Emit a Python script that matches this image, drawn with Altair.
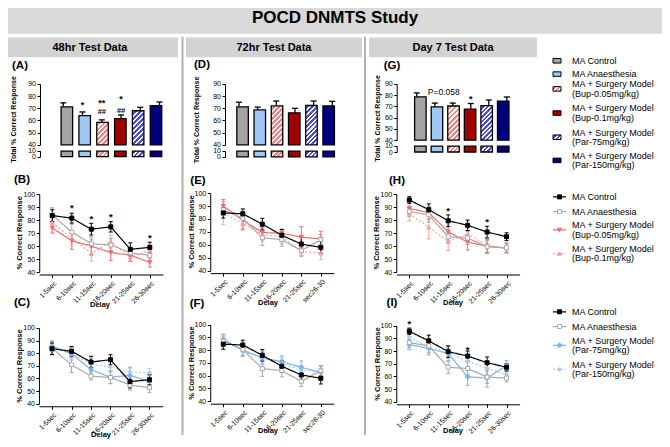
import altair as alt
import pandas as pd

W, H = 654, 431
# reference-pixel -> canvas mapping (page has an 8px margin)
YB = 429.0 / 435.0
YA = 10.0 - 10.0 * YB
FONT = "Liberation Sans"


def X(v):
    return round(min(max(v - 8.0, 0.0), W), 2)


def Y(v):
    return round(min(max(YA + YB * v - 8.0, 0.0), H), 2)


# ---------------- categories / labels ----------------
groups = ["MA Control", "MA Anaesthesia", "Bup-0.05", "Bup-0.1", "Par-75", "Par-150"]
legend_lines = [
    ["MA Control"], ["MA Anaesthesia"],
    ["MA + Surgery Model", "(Bup-0.05mg/kg)"], ["MA + Surgery Model", "(Bup-0.1mg/kg)"],
    ["MA + Surgery Model", "(Par-75mg/kg)"], ["MA + Surgery Model", "(Par-150mg/kg)"],
]
delays_a = ["1-5sec", "6-10sec", "11-15sec", "16-20sec", "21-25sec", "26-30sec"]
delays_b = ["1-5sec", "6-10sec", "11-15sec", "16-20sec", "21-25sec", "sec26-30"]

# ---------------- bar data (total % correct) ----------------
bar_48_mean = [71.2, 64.0, 58.5, 61.5, 68.0, 72.2]
bar_48_err = [3.3, 3.0, 2.0, 3.0, 2.8, 3.0]
bar_72_mean = [71.2, 68.7, 72.0, 66.3, 72.3, 72.0]
bar_72_err = [3.8, 2.3, 4.0, 3.7, 3.7, 3.7]
bar_d7_mean = [78.6, 69.6, 70.4, 67.6, 70.8, 74.8]
bar_d7_err = [3.4, 3.4, 2.6, 5.0, 5.0, 3.6]
ann_48_stars = [(1, 74.8, "*"), (2, 76.8, "**"), (3, 79.5, "*")]
ann_48_hash = [(2, 67.6, "##"), (3, 68.2, "##")]
ann_d7_stars = [(3, 78.9, "*")]
ann_d7_text = [(1.5, 82.7, "P=0.058")]

# ---------------- line data (% correct by delay) ----------------
b_ctrl = [83.5, 81.5, 73.0, 74.8, 57.5, 59.0]
b_ctrl_err = [4.5, 3.8, 4.5, 4.0, 5.0, 4.0]
b_anae = [84.0, 70.8, 61.8, 60.8, 54.8, 52.8]
b_anae_err = [5.5, 6.0, 3.0, 5.0, 4.0, 4.0]
b_bup05 = [74.0, 64.0, 60.0, 55.0, 53.0, 47.4]
b_bup05_err = [4.0, 6.5, 7.0, 6.0, 4.5, 3.5]
b_bup01 = [78.0, 66.0, 54.5, 63.5, 51.5, 56.5]
b_bup01_err = [4.0, 5.5, 6.0, 5.0, 3.5, 5.0]
c_par75 = [85.5, 79.5, 67.0, 61.0, 62.5, 57.5]
c_par75_err = [4.0, 5.0, 5.0, 5.0, 6.0, 5.0]
c_par150 = [85.0, 80.0, 71.5, 69.0, 65.0, 64.5]
c_par150_err = [3.5, 4.0, 5.0, 4.5, 4.0, 3.5]

e_ctrl = [84.7, 84.0, 76.0, 67.4, 60.6, 58.0]
e_ctrl_err = [4.0, 3.8, 4.5, 4.5, 5.5, 4.5]
e_anae = [87.0, 80.5, 65.5, 64.0, 55.5, 64.0]
e_anae_err = [4.0, 5.0, 6.0, 5.0, 4.0, 4.0]
e_bup05 = [90.0, 79.0, 69.5, 69.0, 66.0, 64.5]
e_bup05_err = [5.0, 7.0, 4.0, 3.0, 8.0, 6.0]
e_bup01 = [84.5, 76.5, 68.0, 66.0, 55.0, 53.5]
e_bup01_err = [9.0, 5.0, 5.0, 5.0, 4.0, 5.0]
f_par75 = [88.5, 80.0, 74.0, 71.0, 66.5, 62.5]
f_par75_err = [4.0, 4.5, 5.0, 4.5, 5.0, 5.0]
f_par150 = [89.0, 79.0, 73.5, 70.0, 64.0, 63.5]
f_par150_err = [3.5, 3.5, 4.0, 4.0, 4.0, 4.0]

h_ctrl = [95.5, 88.0, 79.5, 76.0, 70.8, 67.2]
h_ctrl_err = [2.5, 4.5, 4.5, 4.0, 4.5, 3.0]
h_anae = [86.6, 84.0, 67.2, 66.2, 59.5, 58.7]
h_anae_err = [4.0, 5.5, 5.0, 5.0, 5.0, 3.0]
h_bup05 = [89.0, 85.6, 71.0, 63.0, 60.0, 58.2]
h_bup05_err = [4.0, 5.0, 7.0, 6.0, 5.0, 3.5]
h_bup01 = [84.8, 74.5, 63.5, 69.5, 60.3, 58.7]
h_bup01_err = [5.5, 9.0, 7.0, 5.0, 6.0, 4.0]
i_par75 = [85.0, 82.0, 78.0, 59.7, 58.7, 68.5]
i_par75_err = [4.0, 5.0, 6.0, 7.0, 7.0, 4.0]
i_par150 = [91.0, 83.0, 79.0, 72.0, 66.5, 61.5]
i_par150_err = [3.0, 4.0, 5.0, 5.0, 5.0, 4.0]

b_stars = [(1, 91.2), (2, 83.0), (3, 84.8), (5, 68.4)]
h_stars = [(2, 89.4), (4, 81.0)]
i_stars = [(0, 103.6), (3, 82.7)]

# ---------------- styles ----------------
bar_colors = ["#a4a4a4", "#9ec8f6", "#ffffff", "#a30000", "#ffffff", "#000080"]
hatch_colors = {"Bup-0.05": "#f08585", "Par-75": "#4b4bdc"}
line_colors = ["#000000", "#a9a9a9", "#f06c6c", "#f6a2a2", "#7cb3ee", "#a7cdf5"]
marker_fills = ["#000000", "#ffffff", "#f06c6c", "#f6a2a2", "#7cb3ee", "#a7cdf5"]
line_dashes = [[1, 0], [1, 0], [1, 0], [2, 2], [1, 0], [2, 2]]
marker_shapes = ["square", "square", "triangle-down", "triangle-up", "cross", "diamond"]
CAP = "M-1,0L1,0"


def lin(d0, d1, r0, r1):
    return alt.Scale(domain=[d0, d1], range=[r0, r1], nice=False, zero=False)


def gsc(rng):
    return alt.Scale(domain=groups, range=rng)


PX = lin(0, 670, -8.0, 662.0)
PY = lin(0, 447, round(YA - 8.0, 3), round(YA + YB * 447 - 8.0, 3))
dummy = pd.DataFrame({"d": [0]})


def rect(x1, y1, x2, y2, color):
    return alt.Chart(dummy).mark_rect(color=color).encode(
        x=alt.value(X(x1)), x2=alt.value(X(x2)), y=alt.value(Y(y1)), y2=alt.value(Y(y2)))


def texts(rows, **kw):
    df = pd.DataFrame(rows, columns=["t", "x", "y"])
    return alt.Chart(df).mark_text(font=FONT, color="black", **kw).encode(
        x=alt.X("x:Q", scale=PX, axis=None),
        y=alt.Y("y:Q", scale=PY, axis=None),
        text="t:N")


def hatch(color, w, h, period=3.4):
    k = (w + h) / (w * w + h * h)
    n = max(1, int(round((w + h) / (period * 1.4142))))
    stops = []
    for j in range(n):
        a, b, c = j / n, (j + 0.45) / n, (j + 1) / n
        stops += [{"offset": round(a, 4), "color": "#ffffff"}, {"offset": round(b, 4), "color": "#ffffff"},
                  {"offset": round(b, 4), "color": color}, {"offset": round(c, 4), "color": color}]
    return {"gradient": "linear", "x1": 0, "y1": 0, "x2": round(w * k, 4), "y2": round(h * k, 4), "stops": stops}


layers = []

# ---------------- frame decorations ----------------
layers.append(rect(2, 1, 668, 34, "#d9d9d9"))
for x1, x2 in [(2, 178), (186, 362), (369, 537)]:
    layers.append(rect(x1, 38, x2, 58, "#d3d3d3"))
layers.append(rect(181.5, 37, 183.5, 441, "#b0b0b0"))
layers.append(rect(364, 37, 366, 441, "#b0b0b0"))
layers.append(texts([("POCD DNMTS Study", 335, 18)], fontSize=17, fontWeight="bold",
                    align="center", baseline="middle"))
layers.append(texts([("48hr Test Data", 90, 48.5), ("72hr Test Data", 274, 48.5), ("Day 7 Test Data", 453, 48.5)],
                    fontSize=11, fontWeight="bold", align="center", baseline="middle"))
layers.append(texts([("(A)", 20, 67), ("(D)", 202, 66), ("(G)", 392, 67), ("(B)", 22, 182), ("(C)", 22, 307),
                     ("(E)", 198, 183), ("(F)", 197, 308), ("(H)", 397, 183), ("(I)", 392, 307)],
                    fontSize=11.5, fontWeight="bold", align="center", baseline="middle"))
layers.append(texts([("Total % Correct Response", 14, 121), ("Total % Correct Response", 197, 121.5),
                     ("Total % Correct Response", 378, 120)],
                    fontSize=7, fontWeight="bold", align="center", baseline="middle", angle=270))
layers.append(texts([("% Correct Response", 20, 236), ("% Correct Response", 20, 371),
                     ("% Correct Response", 192, 235), ("% Correct Response", 192, 368),
                     ("% Correct Response", 377, 236), ("% Correct Response", 378, 369)],
                    fontSize=7.5, fontWeight="bold", align="center", baseline="middle", angle=270))
layers.append(texts([("Delay", 100, 309), ("Delay", 101, 441), ("Delay", 268, 307), ("Delay", 268, 437),
                     ("Delay", 453, 307), ("Delay", 453, 437)],
                    fontSize=7.5, fontWeight="bold", align="center", baseline="middle"))


# ---------------- bar panels ----------------
def bar_panel(mean, err, x0, step, axis_x, y40, y90, y0, y10, stars, hashes, notes):
    df = pd.DataFrame({"i": list(range(6)), "group": groups, "mean": mean, "err": err})
    df["hi"] = df["mean"] + df["err"]
    df["base"] = 40
    df["s0"] = 0
    df["s1"] = 9.5
    xs = lin(-1, 6, X(x0 - step), X(x0 + 6 * step))
    yt = lin(40, 90, Y(y40), Y(y90))
    yb = lin(0, 10, Y(y0), Y(y10))
    bw = 11.5
    xe = alt.X("i:Q", scale=xs, axis=None)
    out = []
    c = alt.Chart(df)
    out.append(c.mark_rule(color="black", strokeWidth=1.3).encode(
        x=xe, y=alt.Y("mean:Q", scale=yt, axis=None), y2="hi:Q"))
    out.append(c.mark_point(shape=CAP, size=36, filled=False, color="black", strokeWidth=1.3, opacity=1).encode(
        x=xe, y=alt.Y("hi:Q", scale=yt, axis=None)))
    solid = c.transform_filter(alt.FieldOneOfPredicate(field="group", oneOf=[g for g in groups if g not in hatch_colors]))
    out.append(solid.mark_bar(width=bw, stroke="black", strokeWidth=1.3).encode(
        x=xe,
        y=alt.Y("mean:Q", scale=yt, axis=alt.Axis(orient="left", offset=-X(axis_x), values=[40, 50, 60, 70, 80, 90], title=None)),
        y2="base:Q",
        fill=alt.Fill("group:N", scale=gsc(bar_colors), legend=None)))
    out.append(solid.mark_bar(width=bw, stroke="black", strokeWidth=1.3).encode(
        x=xe,
        y=alt.Y("s1:Q", scale=yb, axis=alt.Axis(orient="left", offset=-X(axis_x), values=[0, 10], title=None)),
        y2="s0:Q",
        fill=alt.Fill("group:N", scale=gsc(bar_colors), legend=None)))
    ppu_t = (Y(y40) - Y(y90)) / 50.0
    ppu_b = (Y(y0) - Y(y10)) / 10.0
    for g, col in hatch_colors.items():
        m = float(df.loc[df.group == g, "mean"].iloc[0])
        sub = c.transform_filter(alt.datum.group == g)
        out.append(sub.mark_bar(width=bw, stroke="black", strokeWidth=1.3, fill=hatch(col, bw, (m - 40) * ppu_t)).encode(
            x=xe, y=alt.Y("mean:Q", scale=yt, axis=None), y2="base:Q"))
        out.append(sub.mark_bar(width=bw, stroke="black", strokeWidth=1.3, fill=hatch(col, bw, 9.5 * ppu_b)).encode(
            x=xe, y=alt.Y("s1:Q", scale=yb, axis=None), y2="s0:Q"))
    for rows, fs, dyf, weight in [(stars, 9, 0.62, "bold"), (hashes, 7.5, 0.36, "bold"), (notes, 8.5, 0.36, "normal")]:
        if rows:
            adf = pd.DataFrame(rows, columns=["i", "v", "t"])
            out.append(alt.Chart(adf).mark_text(font=FONT, fontSize=fs, fontWeight=weight, color="black",
                                                align="center", baseline="alphabetic", dy=dyf * fs).encode(
                x=xe, y=alt.Y("v:Q", scale=yt, axis=None), text="t:N"))
    return out


layers += bar_panel(bar_48_mean, bar_48_err, 63.3, 19.25, 40, 146.7, 85, 158.7, 152.7, ann_48_stars, ann_48_hash, [])
layers += bar_panel(bar_72_mean, bar_72_err, 239.0, 18.65, 225, 146.7, 85, 159, 152.7, [], [], [])
layers += bar_panel(bar_d7_mean, bar_d7_err, 416.8, 18.0, 396.7, 142, 85, 154, 147.7, ann_d7_stars, [], ann_d7_text)


# ---------------- line panels ----------------
def line_panel(series, labels, x0, step, y100, y40, stars):
    rows = []
    for g, m, e in series:
        for i in range(6):
            rows.append({"group": g, "i": i, "mean": m[i], "lo": m[i] - e[i], "hi": m[i] + e[i]})
    df = pd.DataFrame(rows)
    ax0 = x0 - 0.67 * step
    xs = lin(-0.67, 5.67, X(ax0), X(x0 + 5.67 * step))
    ys = lin(40, 100, Y(y40), Y(y100))
    label_expr = "[" + ",".join("'%s'" % s for s in labels) + "][datum.value]"
    x_axis = alt.Axis(orient="bottom", offset=round(Y(y40 + 2.5) - H, 2), values=list(range(6)),
                      labelExpr=label_expr, labelAngle=-45, title=None)
    y_axis = alt.Axis(orient="left", offset=-X(ax0), values=[40, 50, 60, 70, 80, 90, 100], title=None)
    xe = alt.X("i:Q", scale=xs, axis=None)
    stroke = alt.Stroke("group:N", scale=gsc(line_colors), legend=None)
    c = alt.Chart(df)
    out = [
        c.mark_rule(strokeWidth=1).encode(x=xe, y=alt.Y("lo:Q", scale=ys, axis=None), y2="hi:Q", stroke=stroke),
        c.transform_fold(["lo", "hi"], as_=["k", "v"]).mark_point(shape=CAP, size=16, filled=False, strokeWidth=1, opacity=1).encode(
            x=xe, y=alt.Y("v:Q", scale=ys, axis=None), stroke=stroke),
        c.mark_line(strokeWidth=1.2).encode(
            x=alt.X("i:Q", scale=xs, axis=x_axis), y=alt.Y("mean:Q", scale=ys, axis=y_axis), stroke=stroke,
            strokeDash=alt.StrokeDash("group:N", scale=gsc(line_dashes), legend=None)),
        c.mark_point(filled=True, opacity=1, size=16, strokeWidth=1).encode(
            x=xe, y=alt.Y("mean:Q", scale=ys, axis=None), stroke=stroke,
            fill=alt.Fill("group:N", scale=gsc(marker_fills), legend=None),
            shape=alt.Shape("group:N", scale=gsc(marker_shapes), legend=None)),
    ]
    if stars:
        sdf = pd.DataFrame(stars, columns=["i", "v"])
        sdf["t"] = "*"
        out.append(alt.Chart(sdf).mark_text(font=FONT, fontSize=9.5, fontWeight="bold", color="black",
                                            align="center", baseline="alphabetic", dy=5.9).encode(
            x=xe, y=alt.Y("v:Q", scale=ys, axis=None), text="t:N"))
    return out


layers += line_panel([("Bup-0.1", b_bup01, b_bup01_err), ("Bup-0.05", b_bup05, b_bup05_err),
                      ("MA Anaesthesia", b_anae, b_anae_err), ("MA Control", b_ctrl, b_ctrl_err)],
                     delays_a, 52.3, 19.5, 196.7, 275.7, b_stars)
layers += line_panel([("Par-150", c_par150, c_par150_err), ("Par-75", c_par75, c_par75_err),
                      ("MA Anaesthesia", b_anae, b_anae_err), ("MA Control", b_ctrl, b_ctrl_err)],
                     delays_a, 52.0, 19.5, 332.3, 409.3, [])
layers += line_panel([("Bup-0.1", e_bup01, e_bup01_err), ("Bup-0.05", e_bup05, e_bup05_err),
                      ("MA Anaesthesia", e_anae, e_anae_err), ("MA Control", e_ctrl, e_ctrl_err)],
                     delays_b, 223.3, 19.5, 195.7, 274.3, [])
layers += line_panel([("Par-150", f_par150, f_par150_err), ("Par-75", f_par75, f_par75_err),
                      ("MA Anaesthesia", e_anae, e_anae_err), ("MA Control", e_ctrl, e_ctrl_err)],
                     delays_b, 223.3, 19.5, 329, 406.7, [])
layers += line_panel([("Bup-0.1", h_bup01, h_bup01_err), ("Bup-0.05", h_bup05, h_bup05_err),
                      ("MA Anaesthesia", h_anae, h_anae_err), ("MA Control", h_ctrl, h_ctrl_err)],
                     delays_a, 409.3, 19.45, 196.7, 275.7, h_stars)
layers += line_panel([("Par-150", i_par150, i_par150_err), ("Par-75", i_par75, i_par75_err),
                      ("MA Anaesthesia", h_anae, h_anae_err), ("MA Control", h_ctrl, h_ctrl_err)],
                     delays_a, 409.3, 19.45, 330, 407.3, i_stars)

# ---------------- legends ----------------
bar_leg_y = [61.5, 75, 90, 114.5, 139, 162.5]
line_leg1 = (["MA Control", "MA Anaesthesia", "Bup-0.05", "Bup-0.1"], [199.5, 214.5, 233, 257])
line_leg2 = (["MA Control", "MA Anaesthesia", "Par-75", "Par-150"], [316, 331, 350, 374.5])
LEG_DY = 4.7

leg_rows = []
for yc, lines in zip(bar_leg_y, legend_lines):
    if len(lines) == 1:
        leg_rows.append((lines[0], 572, yc))
    else:
        leg_rows += [(lines[0], 572, yc - LEG_DY), (lines[1], 572, yc + LEG_DY)]
for gs, ys in [line_leg1, line_leg2]:
    for g, yc in zip(gs, ys):
        lines = legend_lines[groups.index(g)]
        if len(lines) == 1:
            leg_rows.append((lines[0], 572, yc))
        else:
            leg_rows += [(lines[0], 572, yc - LEG_DY), (lines[1], 572, yc + LEG_DY)]
layers.append(texts(leg_rows, fontSize=9, align="left", baseline="middle"))

for g, yc, col in zip(groups, bar_leg_y, bar_colors):
    fill = hatch(hatch_colors[g], 8, 4.5, period=2.6) if g in hatch_colors else col
    layers.append(alt.Chart(dummy).mark_rect(fill=fill, stroke="black", strokeWidth=1).encode(
        x=alt.value(X(553)), x2=alt.value(X(561)), y=alt.value(Y(yc - 2.3)), y2=alt.value(Y(yc + 2.3))))

for gs, ys in [line_leg1, line_leg2]:
    ldf = pd.DataFrame({"group": gs, "y": ys})
    ye = alt.Y("y:Q", scale=PY, axis=None)
    stroke = alt.Stroke("group:N", scale=gsc(line_colors), legend=None)
    layers.append(alt.Chart(ldf).mark_rule(strokeWidth=1.2).encode(
        x=alt.value(X(553)), x2=alt.value(X(566)), y=ye, stroke=stroke,
        strokeDash=alt.StrokeDash("group:N", scale=gsc(line_dashes), legend=None)))
    layers.append(alt.Chart(ldf).mark_point(filled=True, opacity=1, size=16, strokeWidth=1).encode(
        x=alt.value(X(559.5)), y=ye, stroke=stroke,
        fill=alt.Fill("group:N", scale=gsc(marker_fills), legend=None),
        shape=alt.Shape("group:N", scale=gsc(marker_shapes), legend=None)))

chart = alt.layer(*layers).resolve_scale(
    x="independent", y="independent", fill="independent", stroke="independent",
    shape="independent", strokeDash="independent"
).resolve_axis(x="independent", y="independent").properties(
    width=W, height=H, autosize=alt.AutoSizeParams(type="none"), padding=0, background="white"
).configure_view(stroke=None).configure_axis(
    labelFont=FONT, labelFontSize=7, labelColor="black", tickColor="black", domainColor="black",
    tickSize=3, domainWidth=1, tickWidth=1, grid=False, labelOverlap=False, labelFlush=False, labelPadding=1.5
)

chart.save("out.html", embed_options={"renderer": "svg", "actions": False})
